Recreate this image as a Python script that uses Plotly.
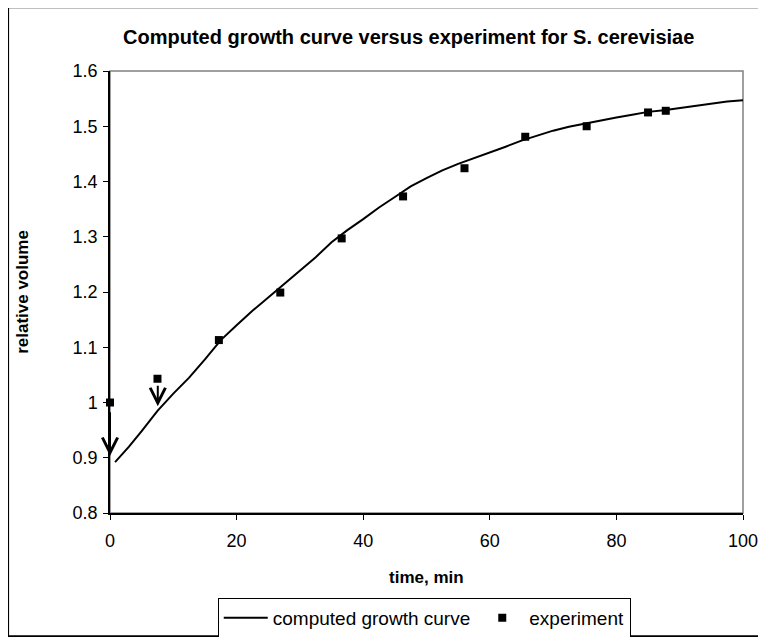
import plotly.graph_objects as go

# ---- data ----
exp_time = [0, 7.5, 17.2, 26.9, 36.6, 46.3, 56.0, 65.6, 75.3, 85.0, 87.8]
exp_volume = [1.000, 1.043, 1.113, 1.199, 1.297, 1.373, 1.424, 1.481, 1.500, 1.525, 1.528]

curve_time = [0.8, 3, 5, 7.5, 10, 12.5, 15, 17.5, 20, 22.5, 25, 27.5, 30, 32.5, 35,
              37.5, 40, 42.5, 45, 47.5, 50, 52.5, 55, 57.5, 60, 62.5, 65, 67.5, 70,
              72.5, 75, 77.5, 80, 82.5, 85, 87.5, 90, 92.5, 95, 97.5, 100]
curve_volume = [0.892, 0.920, 0.948, 0.985, 1.016, 1.045, 1.078, 1.113, 1.140, 1.166,
                1.190, 1.214, 1.239, 1.263, 1.290, 1.312, 1.332, 1.353, 1.372, 1.391,
                1.406, 1.420, 1.432, 1.442, 1.452, 1.463, 1.474, 1.483, 1.492, 1.499,
                1.505, 1.510, 1.516, 1.521, 1.526, 1.529, 1.533, 1.537, 1.541, 1.545,
                1.547]

# arrows: (time, start volume, tip volume)
arrow_time = [0, 7.55]
arrow_start = [0.985, 1.033]
arrow_tip = [0.903, 0.993]

y_ticks = [0.8, 0.9, 1.0, 1.1, 1.2, 1.3, 1.4, 1.5, 1.6]
y_tick_text = ["0.8", "0.9", "1", "1.1", "1.2", "1.3", "1.4", "1.5", "1.6"]
x_ticks = [0, 20, 40, 60, 80, 100]

title_text = "Computed growth curve versus experiment for S. cerevisiae"

FONT = "Arial, 'Liberation Sans', sans-serif"

# plot-area geometry in window pixels (page body has an 8px margin)
PL, PR, PT, PB = 109.5, 743.0, 70.7, 512.7
PW, PH = PR - PL, PB - PT


def px(xw):
    return (xw - PL) / PW


def py(yw):
    return (PB - yw) / PH


fig = go.Figure()
fig.add_trace(go.Scatter(x=curve_time, y=curve_volume, mode="lines",
                         name="computed growth curve",
                         line=dict(color="black", width=2)))
fig.add_trace(go.Scatter(x=exp_time, y=exp_volume, mode="markers",
                         name="experiment", cliponaxis=False,
                         marker=dict(symbol="square", size=8, color="black")))

annotations = []
for t, s, e in zip(arrow_time, arrow_start, arrow_tip):
    annotations.append(dict(x=t, y=e, ax=t, ay=s, xref="x", yref="y",
                            axref="x", ayref="y", text="", showarrow=True,
                            arrowhead=5, arrowsize=1.5, arrowwidth=2,
                            arrowcolor="black", standoff=0, startstandoff=0))

annotations.append(dict(text="<b>" + title_text + "</b>", x=px(408), y=py(37),
                        xref="paper", yref="paper", showarrow=False,
                        font=dict(family=FONT, size=20, color="black"),
                        xanchor="center", yanchor="middle"))
annotations.append(dict(text="<b>relative volume</b>", x=px(22), y=py(292),
                        xref="paper", yref="paper", showarrow=False, textangle=-90,
                        font=dict(family=FONT, size=17, color="black"),
                        xanchor="center", yanchor="middle"))
annotations.append(dict(text="<b>time, min</b>", x=px(426), y=py(577),
                        xref="paper", yref="paper", showarrow=False,
                        font=dict(family=FONT, size=17, color="black"),
                        xanchor="center", yanchor="middle"))

shapes = [
    dict(type="rect", xref="paper", yref="paper", x0=0, x1=1, y0=0, y1=1,
         line=dict(color="#808080", width=1.5), layer="below"),
    dict(type="rect", xref="paper", yref="paper",
         x0=px(7.5), x1=px(765), y0=py(636), y1=py(7),
         line=dict(color="black", width=2), layer="below"),
]

fig.update_layout(
    width=758, height=629,
    margin=dict(l=PL - 8, r=766 - PR, t=PT - 8, b=637 - PB, pad=0, autoexpand=False),
    paper_bgcolor="white", plot_bgcolor="white",
    font=dict(family=FONT, size=18, color="black"),
    showlegend=True,
    legend=dict(orientation="h", x=px(424), y=py(597.5),
                xanchor="center", yanchor="top", itemwidth=44,
                bordercolor="black", borderwidth=1, bgcolor="white",
                font=dict(family=FONT, size=19, color="black")),
    annotations=annotations,
    shapes=shapes,
)
fig.update_xaxes(range=[0, 100], tickvals=x_ticks, showgrid=False, zeroline=False,
                 showline=True, linecolor="black", linewidth=1.5,
                 ticks="outside", ticklen=5, tickcolor="black", tickwidth=1,
                 ticklabelstandoff=6,
                 tickfont=dict(family=FONT, size=18, color="black"))
fig.update_yaxes(range=[0.8, 1.6], tickvals=y_ticks, ticktext=y_tick_text,
                 showgrid=False, zeroline=False,
                 showline=True, linecolor="black", linewidth=1.5,
                 ticks="outside", ticklen=5, tickcolor="black", tickwidth=1,
                 ticklabelstandoff=2,
                 tickfont=dict(family=FONT, size=18, color="black"))

fig.write_html("out.html")
